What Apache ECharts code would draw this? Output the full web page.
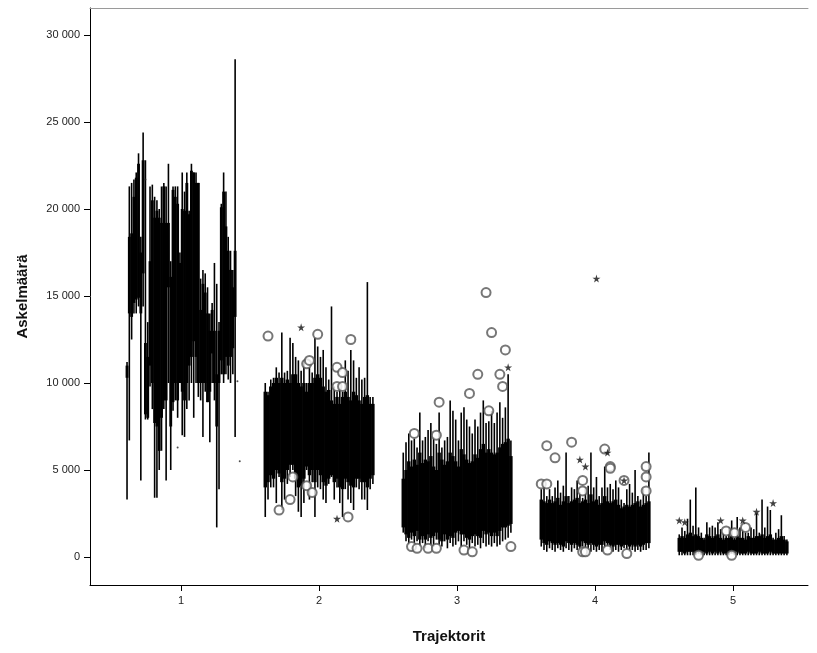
<!DOCTYPE html>
<html><head><meta charset="utf-8">
<script src="https://cdn.jsdelivr.net/npm/echarts@6/dist/echarts.min.js"></script>
<style>html,body{margin:0;padding:0;background:#fff}#c{width:817px;height:653px}</style>
</head><body><div id="c"></div>
<script>
// ---- data ----
const categories = [1, 2, 3, 4, 5];
const yTickValues = [0, 5000, 10000, 15000, 20000, 25000, 30000];
const xTitle = 'Trajektorit';
const yTitle = 'Askelmäärä';

// each box: [low whisker, Q1, median, Q3, high whisker]
const group1Boxes = [
 [3300,10300,10700,11000,11200],[6700,14000,16000,18400,21300],[12500,13800,16500,18600,21500],[14000,14600,17500,20700,21700],
 [14000,14800,18000,21800,22100],[14400,14900,19000,22600,23200],[4400,14000,15500,17500,18400],[14400,16300,19000,22800,24400],
 [7900,8200,10000,12300,22800],[7900,8000,9000,11500,13500],[9800,11000,14000,17000,21300],[8500,10000,15000,20500,21400],
 [3400,7700,12000,19500,20700],[3400,7500,12500,19900,20500],[5000,6100,10000,19500,20000],[6100,8000,12000,19200,21300],
 [8500,9000,14000,21300,21500],[4400,9000,13000,19200,21300],[10000,15500,17000,19200,22600],[5000,7500,11000,16100,17000],
 [8400,8900,14000,21100,21300],[9000,10000,15000,20700,21300],[8000,9000,13000,20300,21300],[10000,10000,13000,16900,17500],
 [7000,9500,14000,20000,22100],[6900,9000,13000,19900,21000],[8500,10000,15000,21500,22100],[9000,11000,15000,19700,19900],
 [10000,11500,16000,22200,22600],[8000,12400,16000,22100,22100],[10000,11500,15000,21500,22100],[9200,10000,14000,21500,21500],
 [9000,10000,12000,14200,16000],[6900,10000,12500,15700,16500],[9500,10000,13000,15200,16300],[8900,8900,11000,14000,15500],
 [6600,9500,11000,13000,14000],[10000,11700,12500,14200,14600],[9000,10000,12000,13000,16900],[1700,7500,9000,10500,15700],
 [3900,10000,11000,13000,13500],[10500,11300,15000,20100,20300],[10000,10500,15000,21000,22100],[10500,11500,15000,19000,21000],
 [10200,11000,14000,17600,18400],[10000,11500,14000,16500,17600],[10500,12000,14000,15500,16500],[6900,13800,15500,17600,28600]
];
const group2Boxes = [
 [2300,4000,6500,9500,10000],[3300,4300,6800,9300,9500],[4000,4700,7000,9800,10200],[4000,4500,7200,10000,10300],
 [3100,5000,7500,10300,10900],[4600,4800,7000,10000,10600],[2700,4300,7000,10300,12900],[3300,4500,7200,10000,10600],
 [4200,5000,7500,10200,10700],[4600,5300,7300,10000,12600],[5000,5300,7500,10500,12300],[3500,4500,7000,10500,11500],
 [2600,4000,6500,10000,11300],[2300,4100,6800,9800,10700],[3100,4500,7000,10000,11300],[5000,5200,7200,9500,10000],
 [3300,4700,7000,10000,10900],[4300,5000,7200,10000,10600],[2300,4300,6800,10300,12600],[4000,5000,7500,10500,12100],
 [3900,4700,7000,10300,11500],[3300,4300,6500,9800,11900],[3100,4100,6300,9500,10900],[4200,4500,6800,9600,10200],
 [4600,4700,6500,9000,14400],[3300,4300,6200,8800,9800],[4000,4500,6300,9200,9500],[3100,4000,6000,8800,10000],
 [2300,3900,6000,9200,9500],[3900,4500,6500,9500,11300],[3300,4300,6300,9200,10700],[3100,4100,6000,9000,11900],
 [2700,4000,6200,9500,11300],[4000,4500,6500,9300,10300],[3900,4500,6500,9000,10900],[3300,4300,6200,8800,10200],
 [3300,4300,6300,9200,10300],[2700,4000,6200,9300,15800],[3900,4500,6500,8800,9200],[4200,4700,6700,8800,9200]
];
const group3Boxes = [
 [1400,1700,3500,4500,6000],[900,1300,3300,5000,6600],[700,1100,3500,5500,7100],[1000,1400,3600,5200,6700],
 [800,1200,3800,5600,6800],[900,1500,3800,5300,6300],[600,1000,3500,6000,8300],[800,1200,3600,5400,6700],
 [500,1000,3300,5600,6900],[900,1300,3500,5500,7300],[700,1100,3700,5800,7700],[600,1200,3600,5200,6900],
 [1000,1400,3400,5000,6500],[700,1000,3800,6000,8300],[600,900,3600,5600,6300],[900,1300,3700,5300,6700],
 [500,1000,3500,5500,6900],[800,1200,4000,6000,9000],[600,1100,3800,5800,8400],[700,1400,3600,5500,7900],
 [900,1500,3500,5200,6700],[600,1300,3900,6200,8300],[900,1300,3800,5900,8600],[700,1100,3700,5600,7900],
 [500,1000,3500,5400,7500],[800,1200,3600,5500,7100],[600,1300,3900,5900,7900],[700,1200,3700,5700,7500],
 [500,1100,3800,6200,8300],[800,1500,4200,6500,9000],[600,1300,3900,6000,7700],[700,1400,4000,6200,7800],
 [600,1200,3800,6000,8400],[800,1400,3900,5900,7700],[600,1200,3800,6000,8300],[700,1500,4100,6300,8900],
 [900,1700,4200,6500,8000],[1000,1700,4300,6600,8600],[1100,1800,4500,6800,10500],[1400,1900,4000,5800,6700]
];
const group4Boxes = [
 [600,1000,2200,3300,3900],[400,800,2000,3200,4000],[300,700,1900,3100,3500],[500,900,2100,3300,3900],
 [400,800,2000,3100,3500],[300,700,1800,3200,4000],[500,800,2000,3400,4400],[400,700,1900,3000,3700],
 [300,600,1800,3200,4100],[500,900,2200,3500,6000],[400,800,2000,3100,3500],[300,700,1900,3200,4000],
 [500,800,2100,3300,3900],[400,700,2000,3400,4400],[300,600,1800,3100,3700],[600,900,2000,3200,3400],
 [500,800,2100,3300,4000],[400,700,1900,3100,4100],[300,800,2200,3600,6000],[400,700,2000,3200,4000],
 [300,600,1900,3300,4600],[400,700,1900,3000,3500],[300,700,1800,3100,4000],[500,900,2100,3500,5200],
 [600,800,2000,3200,4000],[400,700,1900,3100,4200],[300,600,1800,3200,3900],[400,700,2000,3300,4400],
 [300,700,1800,3000,4000],[400,600,1700,2800,3300],[500,700,1800,2900,3100],[400,700,1800,3000,3900],
 [300,600,1700,2900,4200],[400,700,1800,3000,3700],[300,600,1700,3100,5000],[400,700,1900,3200,3500],
 [300,600,1700,2900,3300],[400,700,1800,3000,3900],[400,800,1900,3100,3500],[500,800,2000,3200,6000]
];
const group5Boxes = [
 [100,300,600,1100,1300],[100,300,600,1200,1700],[100,200,500,1100,1500],[100,300,700,1300,2200],
 [100,300,700,1400,3300],[100,300,600,1200,1800],[100,200,600,1300,4000],[200,300,600,1200,1700],
 [100,200,500,1100,1400],[100,300,600,1000,1100],[100,200,600,1300,2000],[100,300,600,1200,1700],
 [100,200,500,1100,1800],[100,300,600,1200,1700],[100,200,600,1300,2000],[100,300,500,1100,1600],
 [100,200,500,1000,1400],[100,200,500,1100,1200],[100,200,500,1100,1700],[200,300,600,1200,2100],
 [100,200,500,1000,1100],[100,300,600,1200,2300],[100,200,500,1100,1700],[100,200,500,1100,1600],
 [100,200,500,1000,1400],[100,300,600,1200,1400],[100,200,500,1100,1700],[100,200,500,1100,1600],
 [100,200,600,1200,2500],[100,300,600,1200,1400],[100,200,600,1300,3300],[100,200,500,1100,1700],
 [100,200,600,1200,2900],[100,300,600,1300,2700],[100,200,500,1000,1100],[100,200,500,1000,1400],
 [100,200,500,1100,1600],[100,200,600,1200,2400],[100,200,500,1000,1200],[100,200,500,900,1000]
];

// outliers: [group, individual index, value]
const circleOutliers = [
 [2,1,12700],[2,19,12800],[2,31,12500],[2,15,11100],[2,16,11300],[2,26,10900],[2,28,10600],[2,26,9800],[2,28,9800],
 [2,10,4600],[2,15,4100],[2,17,3700],[2,9,3300],[2,5,2700],[2,30,2300],
 [3,4,7100],[3,12,7000],[3,13,8900],[3,24,9400],[3,27,10500],[3,30,15200],[3,32,12900],[3,35,10500],[3,36,9800],
 [3,37,11900],[3,31,8400],[3,3,600],[3,5,500],[3,9,500],[3,12,500],[3,22,400],[3,25,300],[3,39,600],
 [4,2,6400],[4,11,6600],[4,5,5700],[4,23,6200],[4,25,5200],[4,25,5100],[4,0,4200],[4,2,4200],[4,15,4400],[4,15,3800],
 [4,30,4400],[4,38,5200],[4,38,4600],[4,38,3800],[4,15,300],[4,16,300],[4,24,400],[4,31,200],
 [5,7,100],[5,19,100],[5,17,1500],[5,20,1400],[5,24,1700]
];
const starOutliers = [
 [2,13,13200],[2,26,2200],
 [3,38,10900],
 [4,20,16000],[4,14,5600],[4,16,5200],[4,24,6000],[4,30,4400],
 [5,0,2100],[5,2,2000],[5,15,2100],[5,23,2100],[5,28,2600],[5,34,3100]
];
const tinyOutliers = [[1,8,21700],[1,22,6300],[1,48,10100],[1,49,5500]];

// ---- build ----
const groupBoxes = [group1Boxes, group2Boxes, group3Boxes, group4Boxes, group5Boxes];
const CLUSTER = 0.8;
function xPos(g, i, n) { return g - CLUSTER / 2 + (i + 0.5) * CLUSTER / n; }
const boxData = [];
groupBoxes.forEach((arr, gi) => arr.forEach((b, i) => {
  boxData.push([xPos(categories[gi], i, arr.length), b[0], b[1], b[2], b[3], b[4], arr.length]);
}));
function outlierPoints(list) {
  return list.map(o => [xPos(o[0], o[1], groupBoxes[o[0] - 1].length), o[2]]);
}
function fmt(v) { return String(v).replace(/\B(?=(\d{3})+(?!\d))/g, ' '); }
const FONT = "'Liberation Sans', Arial, sans-serif";
const starPath = 'path://M50,0 L61,35 L98,35 L68,57 L79,91 L50,70 L21,91 L32,57 L2,35 L39,35 Z';

const chart = echarts.init(document.getElementById('c'), null, { renderer: 'canvas' });
chart.setOption({
  animation: false,
  backgroundColor: '#fff',
  grid: { left: 90, right: 9, top: 8, bottom: 68, containLabel: false },
  xAxis: [{
    type: 'value', min: 0.34, max: 5.543, position: 'bottom',
    name: xTitle, nameLocation: 'middle', nameGap: 44,
    nameTextStyle: { fontFamily: FONT, fontSize: 15, fontWeight: 'bold', color: '#111' },
    axisLine: { show: true, onZero: false, lineStyle: { color: '#000', width: 1 } },
    axisTick: { show: true, length: 6, lineStyle: { color: '#000' }, customValues: categories },
    axisLabel: { show: true, margin: 10, fontFamily: FONT, fontSize: 11, color: '#222', customValues: categories, formatter: v => String(v) },
    splitLine: { show: false }
  }, {
    type: 'value', min: 0.34, max: 5.543, position: 'top',
    axisLine: { show: true, onZero: false, lineStyle: { color: '#9a9a9a', width: 1 } },
    axisTick: { show: false }, axisLabel: { show: false }, splitLine: { show: false }
  }],
  yAxis: {
    type: 'value', min: -1609, max: 31552,
    name: yTitle, nameLocation: 'middle', nameGap: 60, nameRotate: 90,
    nameTextStyle: { fontFamily: FONT, fontSize: 15, fontWeight: 'bold', color: '#111' },
    axisLine: { show: true, onZero: false, lineStyle: { color: '#000', width: 1 } },
    axisTick: { show: true, length: 6, lineStyle: { color: '#000' }, customValues: yTickValues },
    axisLabel: { show: true, margin: 10, fontFamily: FONT, fontSize: 11, color: '#222', customValues: yTickValues, formatter: v => fmt(v) },
    splitLine: { show: false }
  },
  series: [{
    type: 'custom',
    xAxisIndex: 0,
    data: boxData,
    encode: { x: 0, y: [1, 2, 3, 4, 5] },
    renderItem: function (params, api) {
      const x = api.value(0), n = api.value(6);
      const pLow = api.coord([x, api.value(1)]);
      const pQ1 = api.coord([x, api.value(2)]);
      const pQ3 = api.coord([x, api.value(4)]);
      const pHigh = api.coord([x, api.value(5)]);
      const bw = Math.max(1.5, api.size([CLUSTER / n, 0])[0] * 1.25);
      return {
        type: 'group',
        children: [
          { type: 'line', shape: { x1: pLow[0], y1: pLow[1], x2: pHigh[0], y2: pHigh[1] }, style: { stroke: '#000', lineWidth: 1.6 } },
          { type: 'rect', shape: { x: pQ3[0] - bw / 2, y: pQ3[1], width: bw, height: Math.max(1, pQ1[1] - pQ3[1]) }, style: { fill: '#000' } }
        ]
      };
    }
  }, {
    type: 'scatter', xAxisIndex: 0,
    data: outlierPoints(circleOutliers),
    symbol: 'emptyCircle', symbolSize: 9,
    itemStyle: { color: '#555', borderColor: '#555', borderWidth: 1 }
  }, {
    type: 'scatter', xAxisIndex: 0,
    data: outlierPoints(starOutliers),
    symbol: starPath, symbolSize: 8,
    itemStyle: { color: '#111' }
  }, {
    type: 'scatter', xAxisIndex: 0,
    data: outlierPoints(tinyOutliers),
    symbol: 'circle', symbolSize: 2,
    itemStyle: { color: '#222' }
  }]
});
</script>
</body></html>
